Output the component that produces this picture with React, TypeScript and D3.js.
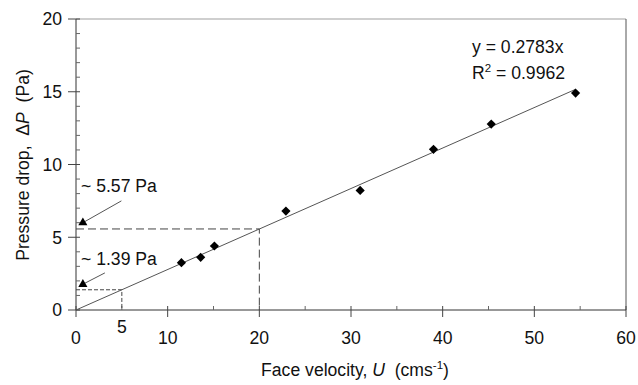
import React from "react";
import * as d3 from "d3";

const velocity = [11.5, 13.6, 15.1, 22.9, 31.0, 39.0, 45.3, 54.5];
const pressure = [3.25, 3.62, 4.4, 6.8, 8.22, 11.04, 12.78, 14.91];
const slope = 0.2783;
const xMajorTicks = [0, 10, 20, 30, 40, 50, 60];
const xMinorTicks = [5, 15, 25, 35, 45, 55];
const yMajorTicks = [0, 5, 10, 15, 20];
const yMinorTicks = [1, 2, 3, 4, 6, 7, 8, 9, 11, 12, 13, 14, 16, 17, 18, 19];
const annotations = [
  { value: 5.57, velocity: 20, label: "~ 5.57 Pa", dash: "8,4", arrowFrom: [4.95, 7.5], arrowTo: [0.75, 6.0] },
  { value: 1.39, velocity: 5, label: "~ 1.39 Pa", dash: "4,2", arrowFrom: [3.15, 2.55], arrowTo: [0.75, 1.77] },
];
const labelPos = [[0.55, 8.1], [0.55, 3.1]];

const W = 638, H = 385;
const x = d3.scaleLinear().domain([0, 60]).range([76, 626]);
const y = d3.scaleLinear().domain([0, 20]).range([310, 19]);
const FONT = "Liberation Sans, Arial, sans-serif";
const FS = 17.6;

export default function App() {
  const line = d3.line<[number, number]>().x(d => x(d[0])).y(d => y(d[1]));
  const diamond = "M0,-4.6L4.6,0L0,4.6L-4.6,0Z";
  const tri = d3.symbol().type(d3.symbolTriangle).size(36)();
  const xEnd = 54.5;
  return (
    <svg width={W} height={H} style={{ position: "absolute", left: 0, top: 0, background: "#fff" }} fontFamily={FONT}>
      <rect x={0} y={0} width={W} height={H} fill="#fff" />
      {/* frame */}
      <line x1={x(0)} x2={x(60)} y1={y(20)} y2={y(20)} stroke="#a0a0a0" strokeWidth={1.2} />
      <line x1={x(60)} x2={x(60)} y1={y(20)} y2={y(0)} stroke="#555" strokeWidth={1} />
      {/* axes */}
      <line x1={x(0)} x2={x(60)} y1={y(0)} y2={y(0)} stroke="#333" strokeWidth={1} />
      <line x1={x(0)} x2={x(0)} y1={y(0)} y2={y(20)} stroke="#333" strokeWidth={1} />
      {yMajorTicks.map(t => (
        <g key={"ym" + t}>
          <line x1={x(0) - 8} x2={x(0) + 4} y1={y(t)} y2={y(t)} stroke="#444" />
          <text x={62} y={y(t)} dy="0.36em" textAnchor="end" fontSize={FS} fill="#111">{t}</text>
        </g>
      ))}
      {yMinorTicks.map(t => (
        <line key={"yn" + t} x1={x(0)} x2={x(0) + 4} y1={y(t)} y2={y(t)} stroke="#666" />
      ))}
      {xMajorTicks.map(t => (
        <g key={"xm" + t}>
          <line x1={x(t)} x2={x(t)} y1={y(0) - 4} y2={y(0) + 7} stroke="#444" />
          <text x={x(t)} y={338} dy="0.36em" textAnchor="middle" fontSize={FS} fill="#111">{t}</text>
        </g>
      ))}
      {xMinorTicks.map(t => (
        <line key={"xn" + t} x1={x(t)} x2={x(t)} y1={y(0) - 4} y2={y(0)} stroke="#666" />
      ))}
      {/* annotation dashed lines */}
      {annotations.map((a, i) => (
        <g key={"an" + i}>
          <path d={line([[0, a.value], [a.velocity, a.value], [a.velocity, 0]])!} fill="none" stroke="#444" strokeWidth={1} strokeDasharray={a.dash} />
          <line x1={x(a.arrowFrom[0])} y1={y(a.arrowFrom[1])} x2={x(a.arrowTo[0])} y2={y(a.arrowTo[1])} stroke="#555" strokeWidth={1} />
          <path d={tri!} transform={`translate(${x(a.arrowTo[0])},${y(a.arrowTo[1])})`} fill="#000" />
          <text x={x(labelPos[i][0])} y={y(labelPos[i][1])} fontSize={FS} fill="#111">{a.label}</text>
        </g>
      ))}
      {/* x=5 label */}
      <text x={x(5)} y={327} dy="0.36em" textAnchor="middle" fontSize={FS} fill="#111">5</text>
      {/* regression line */}
      <path d={line([[0, 0], [xEnd, slope * xEnd]])!} fill="none" stroke="#555" strokeWidth={1} />
      {velocity.map((v, i) => (
        <path key={"p" + i} d={diamond} transform={`translate(${x(v)},${y(pressure[i])})`} fill="#000" />
      ))}
      {/* equation */}
      <text x={472} y={53} fontSize={FS} fill="#111">y = 0.2783x</text>
      <text x={472} y={79} fontSize={FS} fill="#111">R<tspan dy={-7} fontSize={11.5}>2</tspan><tspan dy={7}> = 0.9962</tspan></text>
      {/* axis titles */}
      <text x={355} y={376} textAnchor="middle" fontSize={FS} fill="#111" style={{ whiteSpace: "pre" }}>
        {"Face velocity, "}<tspan fontStyle="italic">U</tspan>{"  (cms"}<tspan dy={-7} fontSize={11.5}>-1</tspan><tspan dy={7}>)</tspan>
      </text>
      <text transform={`translate(29,165) rotate(-90)`} textAnchor="middle" fontSize={FS} fill="#111" style={{ whiteSpace: "pre" }}>
        {"Pressure drop,  Δ"}<tspan fontStyle="italic">P</tspan>{"  (Pa)"}
      </text>
    </svg>
  );
}
